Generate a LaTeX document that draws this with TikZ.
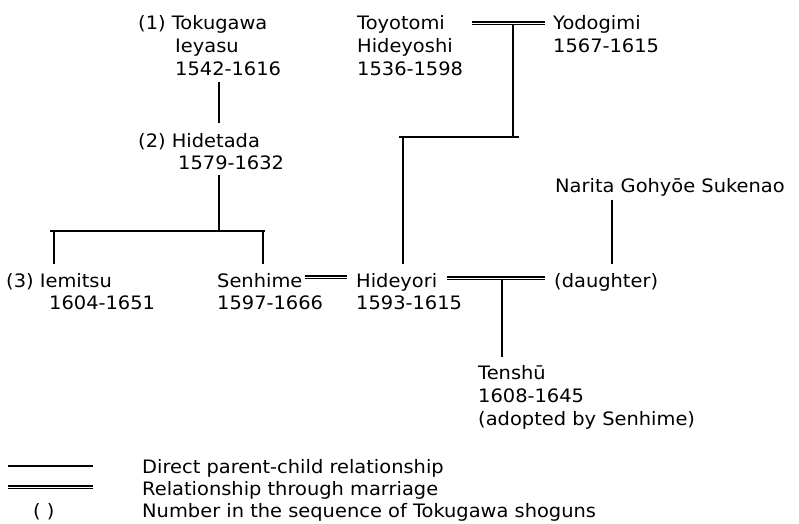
\documentclass[tikz,border=0pt]{standalone}
\usepackage{fontspec}
\setmainfont{DejaVu Sans}[FakeStretch=1.05]
\begin{document}
\begin{tikzpicture}[x=1pt,y=-1pt,
  txt/.style={anchor=base west, inner sep=0pt, font=\fontsize{18.5}{23}\selectfont},
  child/.style={line width=1.1pt},
  marriage/.style={line width=3.6pt, postaction={draw=white, line width=0.7pt}}]
\useasboundingbox (0,0) rectangle (799,523);
% Tokugawa
\node[txt] (ieyasuA) at (138,29) {(1) Tokugawa};
\node[txt] (ieyasuB) at (175,52) {Ieyasu};
\node[txt] (ieyasuC) at (175,75) {1542-1616};
\node[txt] (hidetadaA) at (138,147) {(2) Hidetada};
\node[txt] (hidetadaB) at (178,169) {1579-1632};
\node[txt] (iemitsuA) at (6,287) {(3) Iemitsu};
\node[txt] (iemitsuB) at (49,309) {1604-1651};
\node[txt] (senhimeA) at (217,287) {Senhime};
\node[txt] (senhimeB) at (217,309) {1597-1666};
% Toyotomi
\node[txt] (toyoA) at (357,29) {Toyotomi};
\node[txt] (toyoB) at (357,52) {Hideyoshi};
\node[txt] (toyoC) at (357,75) {1536-1598};
\node[txt] (yodoA) at (553,29) {Yodogimi};
\node[txt] (yodoB) at (553,52) {1567-1615};
\node[txt] (hideyoriA) at (356,287) {Hideyori};
\node[txt] (hideyoriB) at (356,309) {1593-1615};
\node[txt] (narita) at (555,192) {Narita Gohy\=oe Sukenao};
\node[txt] (daughter) at (554,287) {(daughter)};
\node[txt] (tenshuA) at (478,379) {Tensh\=u};
\node[txt] (tenshuB) at (478,402) {1608-1645};
\node[txt] (tenshuC) at (478,425) {(adopted by Senhime)};
% connector points
\coordinate (ie) at (219,82);
\coordinate (hdTop) at (219,123);
\coordinate (hdBot) at (219,175);
\coordinate (hdBar) at (219,231);
\coordinate (barL) at (50,231);
\coordinate (barR) at (265,231);
\coordinate (imTopA) at (54,231);
\coordinate (imTop) at (54,264);
\coordinate (shTopA) at (263,231);
\coordinate (shTop) at (263,264);
\coordinate (tyR) at (472,23);
\coordinate (ydL) at (545,23);
\coordinate (tyMid) at (513,23);
\coordinate (tyBar) at (513,137);
\coordinate (bar2L) at (399,137);
\coordinate (bar2R) at (519,137);
\coordinate (hyTopA) at (403,137);
\coordinate (hyTop) at (403,264);
\coordinate (shR) at (305,277);
\coordinate (hyL) at (347,277);
\coordinate (hyR) at (447,278);
\coordinate (dtL) at (545,278);
\coordinate (tsMid) at (502,278);
\coordinate (tsTop) at (502,357);
\coordinate (nrBot) at (612,200);
\coordinate (dtTop) at (612,264);
% connectors
\draw[child] (ie) -- (hdTop);
\draw[child] (hdBot) -- (hdBar);
\draw[child] (barL) -- (barR);
\draw[child] (imTopA) -- (imTop);
\draw[child] (shTopA) -- (shTop);
\draw[child] (tyMid) -- (tyBar);
\draw[child] (bar2L) -- (bar2R);
\draw[child] (hyTopA) -- (hyTop);
\draw[child] (tsMid) -- (tsTop);
\draw[child] (nrBot) -- (dtTop);
\draw[marriage] (tyR) -- (ydL);
\draw[marriage] (shR) -- (hyL);
\draw[marriage] (hyR) -- (dtL);
% legend
\coordinate (lgAL) at (8,466);
\coordinate (lgAR) at (93,466);
\coordinate (lgBL) at (8,487);
\coordinate (lgBR) at (93,487);
\draw[child] (lgAL) -- (lgAR);
\draw[marriage] (lgBL) -- (lgBR);
\node[txt] (lgA) at (142,473) {Direct parent-child relationship};
\node[txt] (lgB) at (142,495) {Relationship through marriage};
\node[txt] (lgCsym) at (33,517) {( )};
\node[txt] (lgC) at (142,517) {Number in the sequence of Tokugawa shoguns};
\end{tikzpicture}
\end{document}
